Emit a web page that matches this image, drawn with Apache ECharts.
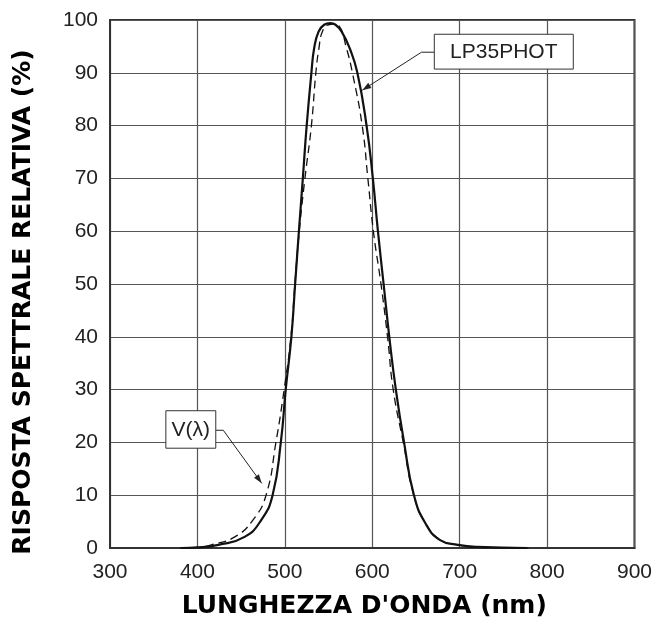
<!DOCTYPE html>
<html>
<head>
    <meta charset="utf-8">
    <title>LP35PHOT risposta spettrale</title>
    <script src="https://cdn.jsdelivr.net/npm/echarts@6/dist/echarts.min.js"></script>
    <style>
        html, body { margin: 0; padding: 0; background: #fff; }
        #main { width: 655px; height: 625px; }
    </style>
</head>
<body>
<div id="main"></div>
<script>
    // curva LP35PHOT (linea continua): lunghezza d'onda nm / risposta %
    var lpNm  = [382, 400, 424, 454, 473, 486, 495.4, 501, 507.5, 511.8, 516.1, 520.6, 525, 530.4, 533.5, 538.6, 545, 552, 558, 565, 574.3, 583, 593.5, 600.7, 606.5, 613, 619.5, 627, 636.4, 647.7, 660.8, 677.7, 698, 720, 777];
    var lpVal = [0, 0.1, 0.6, 2.1, 5.3, 10, 20, 30, 40, 50, 60, 70, 80, 90, 94.6, 97.8, 99.1, 99.4, 99.1, 97.8, 94.6, 90, 80, 70, 60, 50, 40, 30, 20, 10, 4.7, 1.5, 0.6, 0.2, 0];
    // curva V(lambda) (linea tratteggiata)
    var vNm  = [380, 400, 416, 442.8, 463.5, 478.5, 489.8, 499.2, 507, 511.5, 516.5, 523, 530.4, 535.5, 539, 543, 550, 556, 562, 570.6, 577.3, 588.5, 595, 601.3, 610, 617.5, 624, 635.5, 647.5, 660.8, 678, 698, 720, 780];
    var vVal = [0, 0.1, 0.6, 2.1, 5.3, 10, 20, 30, 40, 50, 60, 70, 80, 90, 94.6, 97.8, 99.1, 99.2, 98.9, 94.6, 90, 80, 70, 60, 50, 40, 30, 20, 10, 4.7, 1.5, 0.6, 0.1, 0];

    // etichette con freccia (coordinate nei dati)
    var lpBox = [671, 97.3, 830, 90.7];
    var lpLeader = [[671, 93.9], [656.3, 93.9], [588.6, 86.7]];
    var vBox = [363.9, 26.0, 421, 18.9];
    var vLeader = [[421, 22.3], [429.6, 22.3], [473.6, 12.25]];

    function pairs(xs, ys) {
        return xs.map(function (x, i) { return [x, ys[i]]; });
    }

    var chart = echarts.init(document.getElementById('main'));
    var tickFont = { color: '#222', fontSize: 21, fontFamily: 'Liberation Sans, Arial, sans-serif' };
    var gridColor = '#555';

    chart.setOption({
        animation: false,
        grid: { left: 110, right: 13, top: 20, bottom: 77, show: true, borderColor: '#333', borderWidth: 2 },
        xAxis: {
            type: 'value', min: 300, max: 900, interval: 100,
            name: "LUNGHEZZA D'ONDA (nm)", nameLocation: 'middle', nameGap: 46,
            nameTextStyle: { color: '#000', fontSize: 25, fontWeight: 'bold', fontFamily: 'DejaVu Sans', padding: [0, 16, 0, 0] },
            axisLine: { lineStyle: { color: '#333', width: 2 } },
            axisTick: { show: false },
            axisLabel: Object.assign({ margin: 14 }, tickFont),
            splitLine: { lineStyle: { color: gridColor, width: 1.2 } }
        },
        yAxis: {
            type: 'value', min: 0, max: 100, interval: 10,
            name: 'RISPOSTA SPETTRALE RELATIVA (%)', nameLocation: 'middle', nameGap: 74,
            nameTextStyle: { color: '#000', fontSize: 25, fontWeight: 'bold', fontFamily: 'DejaVu Sans', padding: [0, 36, 0, 0] },
            axisLine: { lineStyle: { color: '#333', width: 2 } },
            axisTick: { show: false },
            axisLabel: Object.assign({ margin: 12 }, tickFont),
            splitLine: { lineStyle: { color: gridColor, width: 1.2 } }
        },
        series: [
            {
                name: 'V(λ)', type: 'line', showSymbol: false, smooth: 0.5,
                lineStyle: { color: '#111', width: 1.3, type: [8, 5] },
                data: pairs(vNm, vVal), z: 3
            },
            {
                name: 'LP35PHOT', type: 'line', showSymbol: false, smooth: 0.5,
                lineStyle: { color: '#111', width: 2.2 },
                data: pairs(lpNm, lpVal), z: 4
            }
        ]
    });

    function px(p) { return chart.convertToPixel({ gridIndex: 0 }, p); }

    function annotation(box, leader, text) {
        var a = px([box[0], box[1]]), b = px([box[2], box[3]]);
        var pts = leader.map(px);
        var tip = pts[pts.length - 1], prev = pts[pts.length - 2];
        var dx = tip[0] - prev[0], dy = tip[1] - prev[1];
        var len = Math.sqrt(dx * dx + dy * dy);
        var ux = dx / len, uy = dy / len;
        var hl = 9, hw = 3;
        var base = [tip[0] - ux * hl, tip[1] - uy * hl];
        return [
            {
                type: 'polyline', silent: true,
                shape: { points: pts },
                style: { stroke: '#222', lineWidth: 1, fill: null }
            },
            {
                type: 'polygon', silent: true,
                shape: { points: [tip, [base[0] - uy * hw, base[1] + ux * hw], [base[0] + uy * hw, base[1] - ux * hw]] },
                style: { fill: '#222' }
            },
            {
                type: 'rect', silent: true,
                shape: { x: a[0], y: a[1], width: b[0] - a[0], height: b[1] - a[1] },
                style: { fill: '#fff', stroke: '#333', lineWidth: 1 }
            },
            {
                type: 'text', silent: true,
                x: (a[0] + b[0]) / 2, y: (a[1] + b[1]) / 2 + 1,
                style: { text: text, fill: '#222', fontSize: 21, fontFamily: 'Liberation Sans, Arial, sans-serif', align: 'center', verticalAlign: 'middle' }
            }
        ];
    }

    chart.setOption({
        graphic: annotation(lpBox, lpLeader, 'LP35PHOT').concat(annotation(vBox, vLeader, 'V(λ)'))
    });
</script>
</body>
</html>
